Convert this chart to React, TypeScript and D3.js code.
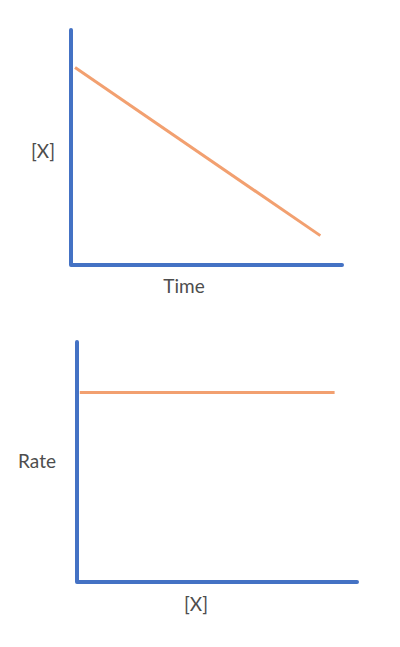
import React from 'react'
import * as d3 from 'd3'

// top panel: concentration falls linearly with time
const timeValues = [0.15, 9.2]
const concValues = [8.4, 1.25]

// bottom panel: rate constant in [X]
const concAxisValues = [0.1, 9.2]
const rateValues = [7.9, 7.9]

const xLabels = ['Time', '[X]']
const yLabels = ['[X]', 'Rate']

const BLUE = '#4472c4'
const ORANGE = '#f2a070'
const TEXT = '#4d4d4d'
const FONT = 'Lato, "Open Sans", sans-serif'

interface IPanelProps {
    left: number,
    right: number,
    top: number,
    bottom: number,
    xs: number[],
    ys: number[],
    xLabel: string,
    yLabel: string,
    xLabelX: number,
    xLabelY: number,
    yLabelX: number,
    yLabelY: number
}

const Panel = ({ left, right, top, bottom, xs, ys, xLabel, yLabel, xLabelX, xLabelY, yLabelX, yLabelY }: IPanelProps) => {
    const xScale = d3.scaleLinear().domain([0, 10]).range([left, right])
    const yScale = d3.scaleLinear().domain([0, 10]).range([bottom, top])
    const line = d3.line<number>()
        .x((_, i) => xScale(xs[i]))
        .y(d => yScale(d))

    return (
        <g>
            <path
                d={`M${xScale(0)},${yScale(10)}V${yScale(0)}H${xScale(10)}`}
                fill="none"
                stroke={BLUE}
                strokeWidth={4}
                strokeLinejoin="round"
                strokeLinecap="round"
            />
            <path d={line(ys) ?? ''} fill="none" stroke={ORANGE} strokeWidth={3} />
            <text
                x={xLabelX}
                y={xLabelY}
                textAnchor="middle"
                dominantBaseline="middle"
                fontFamily={FONT}
                fontSize={19}
                fill={TEXT}
            >{xLabel}</text>
            <text
                x={yLabelX}
                y={yLabelY}
                textAnchor="middle"
                dominantBaseline="middle"
                fontFamily={FONT}
                fontSize={19}
                fill={TEXT}
            >{yLabel}</text>
        </g>
    )
}

export default function App() {
    return (
        <svg
            width={400}
            height={647}
            style={{ position: 'absolute', left: 0, top: 0, background: '#fff' }}
        >
            <Panel
                left={71} right={342} top={30} bottom={265}
                xs={timeValues} ys={concValues}
                xLabel={xLabels[0]} yLabel={yLabels[0]}
                xLabelX={184} xLabelY={288}
                yLabelX={43} yLabelY={153}
            />
            <Panel
                left={77} right={357} top={342} bottom={582}
                xs={concAxisValues} ys={rateValues}
                xLabel={xLabels[1]} yLabel={yLabels[1]}
                xLabelX={196} xLabelY={606}
                yLabelX={37} yLabelY={463}
            />
        </svg>
    )
}
